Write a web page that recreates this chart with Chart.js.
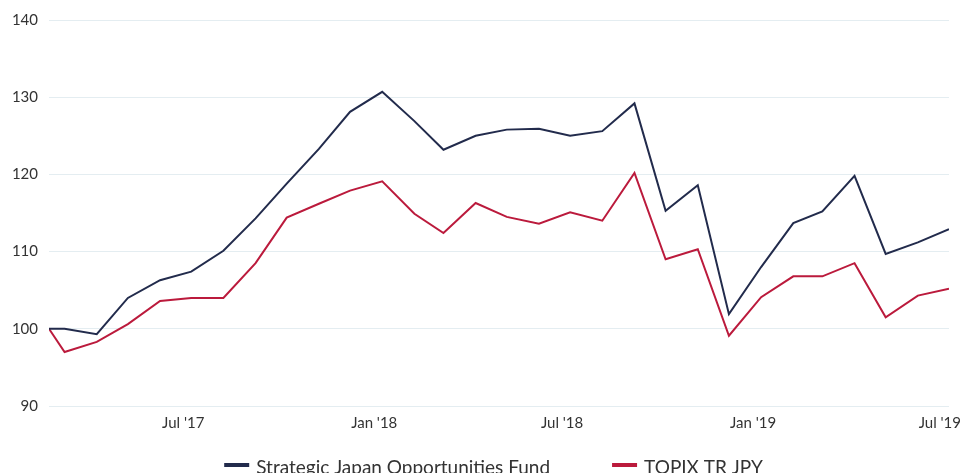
<!DOCTYPE html>
<html>
<head>
<meta charset="utf-8">
<script src="https://cdn.jsdelivr.net/npm/chart.js@4.4.1/dist/chart.umd.min.js"></script>
<style>
  html, body { margin: 0; padding: 0; background: #fff; }
  #wrap { width: 963px; height: 473px; position: relative; }
</style>
</head>
<body>
<div id="wrap"><canvas id="perfChart"></canvas></div>
<script>
// Inception, then month points
var dates = ['2017-02-14',
  '2017-03-01', '2017-04-01', '2017-05-01', '2017-06-01', '2017-07-01', '2017-08-01',
  '2017-09-01', '2017-10-01', '2017-11-01', '2017-12-01', '2018-01-01', '2018-02-01',
  '2018-03-01', '2018-04-01', '2018-05-01', '2018-06-01', '2018-07-01', '2018-08-01',
  '2018-09-01', '2018-10-01', '2018-11-01', '2018-12-01', '2019-01-01', '2019-02-01',
  '2019-03-01', '2019-04-01', '2019-05-01', '2019-06-01', '2019-07-01'];

var fundValues = [100, 100, 99.3, 104.0, 106.3, 107.4, 110.1, 114.3, 118.8, 123.3,
  128.1, 130.7, 126.9, 123.2, 125.0, 125.8, 125.9, 125.0, 125.6, 129.2,
  115.3, 118.6, 101.9, 108.0, 113.7, 115.2, 119.8, 109.7, 111.2, 112.9];

var topixValues = [100, 97.0, 98.3, 100.6, 103.6, 104.0, 104.0, 108.5, 114.4, 116.2,
  117.9, 119.1, 114.9, 112.4, 116.3, 114.5, 113.6, 115.1, 114.0, 120.2,
  109.0, 110.3, 99.1, 104.1, 106.8, 106.8, 108.5, 101.5, 104.3, 105.2];

var seriesNames = ['Strategic Japan Opportunities Fund', 'TOPIX TR JPY'];
var xTickDates = ['2017-07-01', '2018-01-01', '2018-07-01', '2019-01-01', '2019-07-01'];
var yTicks = [90, 100, 110, 120, 130, 140];
var monthNames = ['Jan', 'Feb', 'Mar', 'Apr', 'May', 'Jun', 'Jul', 'Aug', 'Sep', 'Oct', 'Nov', 'Dec'];

var NAVY = '#222b4c';
var RED = '#bb1a3c';
var GRID = '#e4edf1';
var TEXT = '#333333';
var FONT = 'Lato, "Noto Sans", sans-serif';

function dayNum(s) {
  var p = s.split('-');
  return Date.UTC(+p[0], +p[1] - 1, +p[2]) / 86400000;
}

function toPoints(vals) {
  return vals.map(function (v, i) { return { x: dayNum(dates[i]), y: v }; });
}

// keep the last x label inside the canvas
var clampLastLabel = {
  id: 'clampLastLabel',
  beforeDraw: function (chart) {
    var xs = chart.scales.x;
    var items = xs.getLabelItems();
    if (!items.length) return;
    var last = items[items.length - 1];
    var ctx = chart.ctx;
    ctx.save();
    ctx.font = last.font.string;
    var w = ctx.measureText(last.label).width;
    ctx.restore();
    var maxX = chart.width - 2 - w / 2;
    if (last.options.translation[0] > maxX) last.options.translation[0] = maxX;
  }
};

// legend drawn by hand so the gap between items matches
var bottomLegend = {
  id: 'bottomLegend',
  afterDraw: function (chart) {
    var ctx = chart.ctx;
    ctx.save();
    ctx.font = '19px ' + FONT;
    ctx.textBaseline = 'alphabetic';
    ctx.textAlign = 'left';
    var sw = 25, txtGap = 7, itemGap = 62;
    var items = chart.data.datasets.map(function (ds) {
      return { text: ds.label, color: ds.borderColor, w: sw + txtGap + ctx.measureText(ds.label).width };
    });
    var total = items.reduce(function (a, it) { return a + it.w; }, 0) + itemGap * (items.length - 1);
    var x = chart.width / 2 + 12 - total / 2;
    var y = 465;
    items.forEach(function (it) {
      ctx.fillStyle = it.color;
      ctx.fillRect(x, y - 2, sw, 4);
      ctx.fillStyle = TEXT;
      ctx.fillText(it.text, x + sw + txtGap, 473.5);
      x += it.w + itemGap;
    });
    ctx.restore();
  }
};

var ctx = document.getElementById('perfChart').getContext('2d');
new Chart(ctx, {
  type: 'line',
  data: {
    datasets: [
      {
        label: seriesNames[0],
        data: toPoints(fundValues),
        borderColor: NAVY,
        backgroundColor: NAVY,
        borderWidth: 2,
        pointRadius: 0,
        tension: 0
      },
      {
        label: seriesNames[1],
        data: toPoints(topixValues),
        borderColor: RED,
        backgroundColor: RED,
        borderWidth: 2,
        pointRadius: 0,
        tension: 0
      }
    ]
  },
  options: {
    responsive: true,
    maintainAspectRatio: false,
    animation: false,
    layout: { padding: { top: 20, right: 14, left: 0, bottom: 0 } },
    plugins: {
      legend: { display: false },
      tooltip: { enabled: false }
    },
    scales: {
      x: {
        type: 'linear',
        min: dayNum(dates[0]),
        max: dayNum(dates[dates.length - 1]),
        grid: { display: false, drawTicks: false },
        border: { display: false },
        afterBuildTicks: function (axis) {
          axis.ticks = xTickDates.map(function (d) { return { value: dayNum(d) }; });
        },
        afterFit: function (axis) {
          axis.height = 67;
          axis.paddingLeft = 0;
          axis.paddingRight = 0;
        },
        ticks: {
          autoSkip: false,
          maxRotation: 0,
          padding: 8,
          labelOffset: -8,
          color: TEXT,
          font: { family: FONT, size: 15 },
          callback: function (v) {
            var d = new Date(v * 86400000);
            return monthNames[d.getUTCMonth()] + " '" + String(d.getUTCFullYear()).slice(2);
          }
        }
      },
      y: {
        min: 90,
        max: 140,
        grid: { color: GRID, lineWidth: 1, drawTicks: false },
        border: { display: false },
        afterBuildTicks: function (axis) {
          axis.ticks = yTicks.map(function (v) { return { value: v }; });
        },
        afterFit: function (axis) { axis.width = 49; },
        ticks: {
          padding: 11,
          color: TEXT,
          font: { family: FONT, size: 15 }
        }
      }
    }
  },
  plugins: [clampLastLabel, bottomLegend]
});
</script>
</body>
</html>
